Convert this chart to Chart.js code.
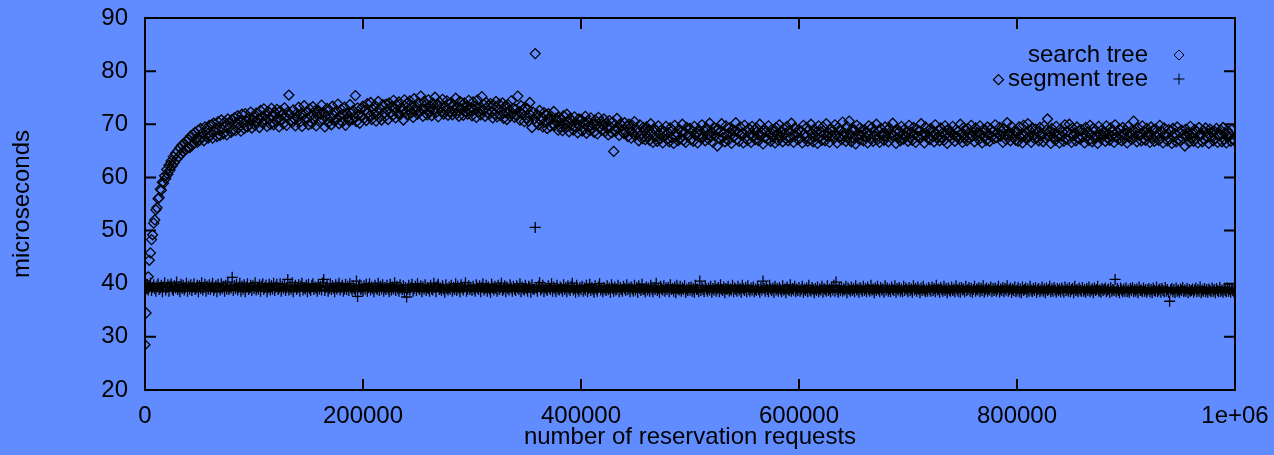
<!DOCTYPE html>
<html lang="en">
  <head>
    <meta charset="UTF-8" />
    <title>search tree vs segment tree</title>
    <script src="https://cdn.jsdelivr.net/npm/chart.js"></script>
    <style>
      html,
      body {
        margin: 0;
        padding: 0;
        background: rgb(96, 140, 255);
      }
      .chart-box {
        width: 1274px;
        height: 455px;
      }
    </style>
  </head>
  <body>
    <div class="chart-box">
      <canvas id="myChart" width="1274" height="455"></canvas>
    </div>
    <script>
      // one sample every 1000 reservation requests
      const xStep = 1000;
      const xTickLabels = ["0", "200000", "400000", "600000", "800000", "1e+06"];
      const yTicks = [20, 30, 40, 50, 60, 70, 80, 90];
      const seriesNames = ["search tree", "segment tree"];

      // microseconds per request, search tree
      const searchTree = [
        28.5, 34.5, 39.2, 41.3, 44.4, 45.8, 48.3, 49.2, 51.4, 52.0, 53.9, 54.3, 56.0, 56.2, 57.8, 57.6, 59.1, 58.9, 60.3, 59.8,
        61.5, 60.6, 62.3, 61.4, 63.1, 62.2, 63.9, 62.8, 64.5, 63.4, 65.0, 63.9, 65.6, 64.4, 66.1, 64.8, 66.4, 65.2, 66.9, 65.5,
        67.2, 65.6, 67.8, 66.0, 68.1, 66.5, 68.5, 67.3, 66.6, 68.9, 67.0, 69.2, 67.6, 68.4, 66.9, 69.5, 67.8, 68.9, 67.4, 69.8,
        68.0, 69.9, 67.4, 70.2, 68.6, 69.3, 67.7, 70.5, 68.9, 67.9, 70.8, 69.1, 68.2, 70.4, 69.6, 68.0, 71.0, 69.3, 70.2, 68.5,
        70.9, 69.0, 71.2, 68.8, 70.3, 71.6, 69.4, 70.7, 68.7, 71.9, 70.1, 69.2, 72.0, 70.6, 69.5, 71.3, 70.0, 72.3, 69.3, 70.8,
        71.4, 69.8, 72.1, 70.5, 71.0, 69.4, 72.6, 71.3, 70.2, 72.9, 70.8, 71.7, 69.6, 72.4, 71.1, 70.0, 73.0, 71.5, 69.9, 72.2,
        70.7, 72.8, 71.2, 69.5, 72.5, 70.9, 71.8, 70.1, 73.1, 71.4, 69.8, 72.3, 75.5, 71.9, 70.6, 70.3, 72.7, 71.0, 69.7, 72.0,
        71.3, 73.2, 70.4, 72.0, 69.6, 71.7, 73.5, 70.8, 72.3, 71.1, 69.9, 72.9, 71.6, 70.2, 73.3, 71.0, 72.5, 69.7, 71.8, 72.6,
        70.5, 71.9, 73.6, 70.9, 72.2, 69.5, 71.5, 73.0, 70.3, 72.7, 71.2, 69.9, 73.4, 71.7, 70.6, 72.4, 71.0, 73.8, 70.1, 71.6,
        72.8, 70.4, 71.9, 73.2, 69.8, 72.1, 71.3, 70.7, 73.7, 72.0, 70.9, 72.6, 71.4, 75.4, 70.5, 73.1, 71.8, 70.2, 72.9, 71.5,
        73.4, 71.1, 72.6, 70.7, 73.9, 72.2, 71.6, 74.1, 70.9, 72.8, 71.9, 73.5, 70.6, 72.4, 74.3, 71.3, 72.9, 70.8, 73.7, 72.1,
        71.4, 73.8, 72.7, 70.9, 74.0, 72.2, 73.3, 71.6, 74.5, 72.9, 71.2, 73.6, 72.0, 74.2, 71.8, 73.1, 72.5, 70.8, 74.6, 72.3,
        73.9, 71.7, 72.8, 74.4, 72.1, 73.5, 71.3, 74.8, 72.6, 73.2, 71.9, 74.1, 72.4, 75.3, 73.0, 71.5, 74.3, 72.9, 73.7, 71.8,
        74.6, 72.5, 73.4, 71.6, 74.0, 72.8, 75.1, 72.2, 73.6, 71.4, 74.2, 73.0, 72.3, 74.7, 71.9, 73.3, 72.6, 74.4, 71.7, 73.8,
        72.4, 74.1, 71.8, 73.5, 72.7, 74.9, 72.0, 73.2, 71.5, 74.3, 72.9, 73.6, 71.7, 74.0, 72.5, 73.3, 71.9, 74.5, 72.6, 73.1,
        71.6, 74.2, 72.8, 73.4, 71.3, 74.6, 72.3, 73.0, 71.8, 75.2, 72.6, 73.7, 71.5, 74.1, 72.2, 73.5, 71.9, 73.9, 72.4, 71.2,
        73.6, 72.0, 74.3, 71.4, 72.9, 73.8, 71.7, 72.5, 74.0, 71.1, 73.3, 72.2, 70.9, 73.7, 72.6, 71.5, 74.4, 72.1, 73.0, 71.3,
        72.8, 71.6, 75.3, 72.4, 70.8, 73.5, 71.9, 72.7, 70.5, 73.2, 71.2, 72.9, 70.6, 74.1, 71.7, 69.4, 72.3, 71.0, 83.3, 70.4,
        71.8, 69.9, 72.6, 70.7, 71.3, 69.5, 72.2, 70.4, 71.7, 69.2, 72.0, 70.9, 69.6, 71.5, 70.1, 72.4, 69.8, 71.1, 70.5, 68.9,
        71.3, 69.6, 70.8, 68.8, 71.6, 70.0, 69.3, 71.9, 70.4, 68.6, 71.1, 69.8, 70.6, 68.9, 71.4, 69.5, 70.2, 68.4, 71.0, 69.7,
        70.9, 68.7, 70.3, 69.1, 71.5, 68.3, 70.6, 69.6, 68.8, 71.2, 69.3, 70.0, 68.5, 70.8, 69.9, 68.2, 71.3, 69.4, 70.5, 68.9,
        69.8, 71.0, 68.6, 70.2, 69.3, 68.0, 70.7, 69.5, 68.4, 70.4, 64.9, 69.0, 68.7, 71.1, 69.2, 67.9, 70.1, 68.8, 69.7, 68.3,
        70.3, 68.5, 69.6, 67.7, 70.0, 68.9, 67.4, 69.8, 68.2, 70.5, 67.9, 69.1, 68.4, 66.9, 69.9, 68.0, 67.3, 69.4, 68.7, 67.1,
        69.5, 67.8, 68.9, 67.0, 70.1, 68.3, 66.6, 69.2, 67.6, 68.8, 66.8, 69.7, 68.1, 67.3, 69.0, 66.5, 68.6, 67.9, 69.6, 67.2,
        68.4, 66.7, 69.3, 67.5, 68.9, 66.4, 69.8, 67.8, 68.2, 66.9, 69.1, 67.3, 68.6, 70.0, 67.0, 68.5, 66.6, 69.4, 67.7, 68.0,
        69.2, 67.1, 68.7, 66.8, 69.6, 67.9, 68.4, 66.5, 69.0, 68.1, 67.4, 69.9, 67.6, 68.8, 66.9, 69.3, 68.0, 67.2, 70.2, 67.7,
        68.5, 66.6, 69.4, 67.8, 68.9, 65.9, 69.1, 67.3, 68.6, 70.1, 67.5, 68.2, 66.7, 69.7, 68.0, 67.0, 69.3, 68.4, 66.4, 69.0,
        67.6, 68.8, 70.3, 67.2, 68.5, 66.8, 69.5, 67.9, 68.3, 66.5, 69.8, 67.4, 68.7, 67.0, 69.2, 68.1, 66.6, 69.6, 67.7, 68.9,
        67.1, 69.3, 68.0, 66.9, 70.0, 67.8, 68.4, 66.3, 69.1, 67.5, 68.7, 67.2, 69.7, 68.2, 66.8, 69.0, 67.6, 68.6, 66.5, 69.4,
        68.1, 67.0, 69.9, 67.7, 68.5, 66.7, 69.2, 68.3, 67.3, 69.6, 66.9, 68.8, 67.5, 70.2, 68.0, 66.6, 69.3, 67.9, 68.4, 67.1,
        69.0, 67.4, 68.7, 66.5, 69.8, 68.2, 67.6, 69.4, 66.8, 68.9, 67.2, 70.0, 68.3, 66.7, 69.1, 67.8, 68.5, 66.4, 69.7, 67.5,
        68.6, 67.0, 69.5, 68.1, 66.9, 70.1, 67.7, 68.4, 66.6, 69.2, 67.9, 68.8, 67.3, 69.9, 68.0, 66.5, 69.4, 67.6, 68.7, 67.1,
        70.4, 67.8, 68.3, 66.8, 69.6, 67.5, 70.6, 68.2, 66.7, 69.1, 67.4, 68.9, 66.3, 69.8, 68.0, 67.2, 69.3, 67.9, 68.5, 66.9,
        69.0, 67.6, 68.4, 66.5, 69.7, 68.1, 67.3, 69.4, 66.8, 68.6, 67.8, 70.0, 67.1, 68.8, 66.6, 69.2, 67.9, 68.3, 67.0, 69.5,
        67.7, 68.9, 66.7, 69.3, 68.2, 67.4, 70.2, 67.9, 68.6, 66.4, 69.0, 67.5, 68.7, 66.9, 69.6, 68.0, 67.2, 69.1, 67.8, 68.4,
        66.8, 69.8, 67.6, 68.5, 67.0, 69.4, 68.1, 66.6, 69.0, 67.7, 68.8, 67.3, 70.1, 67.9, 68.3, 66.5, 69.5, 68.0, 67.4, 68.9,
        67.1, 69.2, 67.8, 68.6, 66.7, 69.9, 68.2, 67.5, 68.9, 66.9, 69.3, 67.6, 68.4, 67.0, 69.7, 68.1, 66.4, 69.1, 67.9, 68.5,
        67.3, 69.6, 68.0, 66.8, 69.0, 67.7, 68.7, 67.2, 70.0, 68.3, 66.6, 69.4, 67.5, 68.8, 66.9, 69.2, 68.1, 67.4, 69.8, 67.8,
        68.5, 66.7, 69.3, 67.9, 68.4, 67.1, 69.7, 68.2, 66.5, 69.0, 67.6, 68.9, 67.0, 69.5, 68.0, 66.8, 69.1, 67.7, 68.6, 67.3,
        69.9, 67.5, 68.3, 78.4, 69.4, 67.8, 68.7, 66.6, 69.2, 68.0, 67.1, 70.3, 67.9, 68.5, 66.9, 69.6, 68.2, 67.4, 68.8, 67.0,
        68.6, 66.8, 69.5, 67.6, 68.1, 66.5, 69.8, 67.9, 68.4, 67.2, 70.1, 67.7, 68.8, 66.6, 69.3, 68.0, 67.3, 69.1, 67.5, 68.5,
        66.9, 69.4, 67.8, 68.2, 66.7, 69.7, 67.4, 68.9, 71.0, 67.9, 68.6, 66.4, 69.2, 67.6, 68.3, 67.0, 69.6, 67.7, 68.0, 66.5,
        69.1, 67.8, 68.5, 66.8, 69.9, 67.3, 68.7, 67.1, 70.0, 68.2, 66.6, 69.3, 67.9, 68.4, 66.9, 69.5, 67.5, 68.8, 67.2, 69.0,
        67.6, 68.3, 66.5, 69.4, 67.8, 68.6, 67.0, 69.8, 68.1, 66.7, 69.2, 67.4, 68.9, 67.7, 66.4, 69.6, 68.0, 67.3, 69.0, 67.9,
        68.4, 66.8, 69.7, 67.5, 68.2, 67.0, 69.3, 67.8, 68.7, 66.6, 69.9, 67.6, 68.5, 67.2, 69.1, 67.9, 66.9, 69.4, 68.1, 67.4,
        68.8, 66.5, 69.6, 67.7, 68.3, 67.1, 69.0, 70.6, 67.6, 68.5, 66.7, 69.3, 67.9, 68.1, 66.9, 69.7, 67.3, 68.6, 67.0, 69.2,
        67.8, 68.4, 66.6, 69.5, 67.5, 68.9, 66.8, 69.1, 67.7, 68.2, 67.0, 69.8, 67.4, 68.6, 66.5, 69.3, 67.9, 68.0, 66.9, 69.0,
        67.2, 68.7, 66.4, 69.2, 67.6, 68.3, 66.7, 69.5, 67.1, 68.5, 66.9, 68.9, 67.4, 68.1, 65.9, 69.1, 67.8, 68.4, 66.6, 69.6,
        67.5, 68.2, 66.8, 69.0, 67.3, 68.6, 66.5, 69.4, 67.9, 68.0, 66.7, 68.8, 67.1, 69.3, 67.6, 68.3, 66.4, 69.1, 67.7, 68.5,
        66.9, 68.7, 67.4, 69.2, 66.6, 68.1, 67.8, 68.9, 66.7, 69.4, 67.2, 68.4, 66.5, 68.8, 67.6, 68.2, 66.8, 69.0, 67.3, 67.0,
      ];

      // microseconds per request, segment tree
      const segmentTree = [
        39.6, 39.0, 39.9, 38.8, 39.4, 40.1, 38.7, 39.3, 39.8, 39.1, 38.6, 39.5, 40.0, 38.9, 39.2, 39.7, 38.5, 39.4, 40.2, 38.8,
        39.3, 39.8, 38.6, 39.5, 40.0, 39.0, 38.7, 39.6, 39.2, 40.3, 38.9, 39.4, 38.5, 39.9, 39.1, 39.7, 38.8, 39.3, 40.1, 38.6,
        39.5, 39.0, 39.8, 38.7, 39.4, 40.0, 38.9, 39.2, 39.7, 38.5, 39.6, 39.1, 40.2, 38.8, 39.3, 39.9, 38.6, 39.5, 39.0, 39.8,
        38.9, 39.4, 40.1, 38.7, 39.2, 39.6, 38.5, 39.9, 39.3, 38.8, 40.0, 39.1, 39.5, 38.6, 39.7, 39.0, 40.3, 38.9, 39.4, 39.2,
        41.2, 38.7, 39.6, 39.1, 39.9, 38.8, 39.3, 40.1, 38.6, 39.5, 39.0, 39.8, 38.5, 39.4, 40.0, 38.9, 39.2, 39.7, 38.7, 39.6,
        39.1, 40.2, 38.8, 39.4, 39.0, 39.8, 38.6, 39.5, 40.0, 38.9, 39.3, 39.7, 38.5, 39.2, 39.9, 38.8, 39.6, 39.0, 40.1, 38.7,
        39.4, 39.9, 38.9, 39.2, 40.0, 38.6, 39.5, 39.1, 39.8, 38.7, 39.3, 40.8, 38.8, 39.6, 39.0, 40.2, 38.5, 39.4, 39.7, 38.9,
        39.2, 39.8, 38.6, 39.5, 40.1, 38.8, 39.3, 39.0, 39.7, 38.5, 39.9, 39.1, 38.7, 39.6, 40.0, 38.9, 39.4, 39.2, 38.6, 39.8,
        39.0, 39.5, 38.8, 40.2, 40.8, 38.7, 39.3, 39.7, 38.6, 39.1, 40.0, 38.9, 39.6, 39.2, 38.5, 39.8, 39.0, 39.4, 40.1, 38.8,
        39.3, 39.7, 38.6, 39.0, 39.9, 38.9, 39.5, 38.7, 40.0, 39.2, 38.8, 39.6, 39.1, 38.5, 40.5, 37.6, 39.4, 39.8, 38.9, 39.2,
        38.7, 39.6, 39.0, 39.9, 38.6, 39.3, 40.0, 38.8, 39.4, 39.1, 38.5, 39.7, 39.2, 38.9, 40.1, 38.7, 39.5, 39.0, 39.8, 38.6,
        39.3, 38.9, 39.7, 39.1, 38.5, 39.9, 38.8, 39.4, 39.0, 40.2, 38.7, 39.5, 39.1, 38.6, 39.8, 39.2, 38.9, 39.6, 38.4, 39.3,
        37.5, 39.0, 39.7, 38.8, 39.3, 39.9, 38.6, 39.1, 39.5, 38.7, 40.0, 39.2, 38.9, 39.6, 38.5, 39.4, 39.0, 39.8, 38.7, 39.3,
        39.1, 38.6, 39.7, 39.0, 38.8, 40.1, 39.3, 38.5, 39.5, 39.9, 38.9, 39.2, 38.7, 39.6, 39.0, 38.4, 39.8, 39.1, 38.8, 39.4,
        39.0, 39.7, 38.6, 39.3, 38.9, 40.0, 38.7, 39.5, 39.1, 38.5, 39.8, 39.2, 38.8, 39.4, 40.2, 38.6, 39.0, 39.6, 38.9, 39.3,
        38.7, 39.5, 39.0, 38.6, 39.8, 39.2, 38.9, 39.6, 38.5, 39.3, 40.0, 38.8, 39.1, 39.7, 38.6, 39.4, 39.0, 38.4, 39.9, 39.2,
        38.8, 39.5, 39.1, 38.6, 39.7, 38.9, 39.3, 40.1, 38.7, 39.0, 39.6, 38.5, 39.4, 39.1, 38.8, 39.8, 39.2, 38.6, 39.5, 39.0,
        38.7, 39.6, 39.2, 38.9, 40.0, 38.5, 39.4, 39.0, 38.8, 39.7, 39.1, 38.6, 39.5, 39.3, 38.4, 39.8, 39.0, 38.9, 50.6, 39.2,
        38.6, 39.5, 40.2, 38.8, 39.1, 39.7, 38.5, 39.3, 39.0, 38.7, 39.6, 39.2, 38.9, 40.0, 38.6, 39.4, 39.1, 38.5, 39.7, 39.0,
        38.8, 39.4, 39.1, 38.6, 39.8, 38.9, 39.3, 38.5, 39.6, 39.0, 38.7, 39.5, 40.1, 38.8, 39.2, 38.4, 39.7, 39.0, 38.6, 39.3,
        38.9, 39.5, 38.6, 39.2, 38.8, 39.7, 38.5, 39.1, 39.9, 38.7, 39.3, 38.9, 38.4, 39.6, 39.0, 38.6, 39.4, 40.0, 38.8, 39.2,
        38.5, 39.3, 39.0, 38.7, 39.6, 38.9, 39.2, 38.4, 39.8, 39.1, 38.6, 39.4, 38.8, 39.0, 39.7, 38.5, 39.3, 38.9, 38.6, 39.5,
        39.1, 38.7, 39.8, 38.9, 39.2, 38.5, 39.4, 39.0, 38.6, 39.7, 38.8, 39.3, 38.4, 39.6, 39.1, 38.7, 39.9, 38.9, 39.0, 38.5,
        39.4, 38.8, 39.2, 38.6, 39.7, 39.0, 38.5, 39.3, 38.9, 40.1, 38.7, 39.1, 38.4, 39.5, 39.0, 38.8, 39.6, 38.6, 39.2, 38.9,
        39.3, 38.5, 39.8, 38.9, 39.1, 38.6, 39.4, 38.3, 39.7, 39.0, 38.8, 39.5, 38.6, 39.2, 38.9, 39.6, 38.4, 39.0, 38.7, 39.3,
        38.8, 39.4, 38.6, 39.1, 38.4, 39.7, 38.9, 39.0, 38.5, 40.5, 38.7, 39.3, 38.9, 38.5, 39.6, 39.0, 38.6, 39.2, 38.8, 39.5,
        38.4, 39.1, 38.8, 39.6, 38.6, 39.0, 39.3, 38.5, 39.8, 38.9, 38.7, 39.4, 38.3, 39.1, 38.9, 39.5, 38.6, 39.0, 38.8, 39.7,
        38.5, 39.2, 38.9, 38.6, 39.5, 38.8, 39.1, 38.4, 39.7, 39.0, 38.7, 39.3, 38.5, 39.6, 38.9, 38.6, 39.2, 38.8, 39.4, 38.5,
        39.0, 38.7, 39.5, 38.9, 38.4, 39.3, 38.8, 40.5, 39.1, 38.6, 39.4, 38.9, 38.5, 39.7, 39.0, 38.7, 39.2, 38.4, 39.5, 38.8,
        39.1, 38.6, 39.3, 38.9, 38.5, 39.6, 38.8, 39.0, 38.3, 39.4, 38.9, 38.7, 39.8, 38.6, 39.1, 38.8, 39.5, 38.5, 39.0, 38.7,
        39.3, 38.6, 38.9, 39.5, 38.4, 39.0, 38.7, 39.2, 38.5, 39.7, 38.8, 38.6, 39.3, 38.9, 38.3, 39.1, 38.7, 39.4, 38.5, 39.0,
        38.8, 39.5, 38.4, 39.1, 38.9, 38.6, 39.6, 38.7, 39.0, 38.5, 39.3, 38.8, 39.7, 38.6, 40.3, 38.9, 38.4, 39.2, 38.7, 39.4,
        38.6, 39.0, 38.8, 39.5, 38.3, 39.2, 38.9, 38.6, 39.4, 38.7, 39.1, 38.5, 39.6, 38.8, 39.0, 38.4, 39.3, 38.9, 38.6, 39.5,
        38.7, 39.1, 38.5, 39.4, 38.9, 38.6, 39.7, 38.8, 39.0, 38.3, 39.2, 38.7, 39.5, 38.9, 38.5, 39.3, 38.8, 39.0, 38.4, 39.6,
        38.8, 39.2, 38.6, 39.0, 38.5, 39.4, 38.9, 38.7, 39.6, 38.4, 39.1, 38.8, 39.3, 38.6, 39.0, 38.5, 39.5, 38.7, 39.2, 38.9,
        38.5, 39.3, 38.7, 39.0, 38.4, 39.6, 38.8, 39.1, 38.6, 39.4, 38.9, 38.3, 39.2, 38.7, 39.5, 38.8, 38.5, 39.0, 38.6, 39.3,
        38.9, 38.6, 39.4, 38.7, 39.1, 38.5, 39.7, 38.8, 39.0, 38.4, 39.3, 38.9, 38.6, 39.5, 38.7, 39.1, 38.3, 39.2, 38.8, 38.6,
        39.4, 38.7, 39.0, 38.5, 39.6, 38.9, 38.6, 39.2, 38.4, 39.3, 38.8, 39.0, 38.5, 39.5, 38.7, 38.9, 39.3, 38.6, 39.1, 38.4,
        38.9, 39.5, 38.6, 39.0, 38.8, 39.3, 38.5, 39.1, 38.7, 39.6, 38.4, 38.9, 39.2, 38.6, 39.0, 38.8, 39.4, 38.5, 39.1, 38.7,
        39.2, 38.6, 38.9, 39.5, 38.4, 39.0, 38.7, 39.3, 38.5, 39.1, 38.8, 39.6, 38.6, 38.9, 39.2, 38.4, 39.0, 38.7, 39.4, 38.5,
        38.8, 39.3, 38.5, 39.0, 38.3, 39.4, 38.7, 38.9, 39.2, 38.4, 39.0, 38.6, 39.5, 38.8, 38.5, 39.1, 38.7, 39.3, 38.4, 38.9,
        39.1, 38.5, 38.8, 39.4, 38.6, 39.0, 38.3, 39.2, 38.7, 38.9, 39.5, 38.5, 39.0, 38.6, 39.3, 38.8, 38.4, 39.1, 38.7, 39.0,
        38.5, 39.2, 38.8, 38.4, 39.4, 38.7, 39.0, 38.6, 39.3, 38.5, 38.9, 39.1, 38.3, 39.5, 38.7, 38.9, 38.5, 39.2, 38.8, 38.6,
        39.3, 38.6, 38.9, 38.4, 39.1, 38.7, 39.4, 38.5, 38.8, 39.0, 38.3, 39.2, 38.7, 38.9, 39.5, 38.6, 38.8, 38.4, 39.1, 38.7,
        38.9, 39.2, 38.5, 38.8, 39.0, 38.4, 39.3, 38.6, 38.9, 38.7, 40.8, 38.5, 39.1, 38.7, 38.3, 39.2, 38.8, 38.5, 39.0, 38.6,
        39.2, 38.5, 38.8, 38.4, 39.1, 38.7, 39.3, 38.5, 38.9, 38.6, 39.0, 38.3, 39.4, 38.7, 38.8, 38.5, 39.2, 38.6, 38.9, 38.4,
        38.8, 39.1, 38.5, 38.9, 38.3, 39.2, 38.7, 38.6, 39.4, 38.5, 38.8, 39.0, 38.4, 39.1, 38.7, 38.5, 39.3, 38.6, 38.9, 38.4,
        36.7, 38.8, 39.1, 38.5, 38.9, 38.3, 39.2, 38.6, 38.8, 38.4, 39.0, 38.7, 39.3, 38.5, 38.8, 38.6, 39.1, 38.3, 38.9, 38.6,
        38.7, 39.0, 38.4, 38.8, 39.2, 38.5, 38.9, 38.6, 39.4, 38.3, 38.8, 38.6, 39.1, 38.5, 38.9, 38.4, 39.0, 38.7, 38.5, 39.2,
        38.6, 38.9, 38.3, 39.1, 38.7, 38.5, 39.3, 38.6, 38.8, 38.4, 39.0, 38.7, 38.5, 39.2, 38.6, 38.9, 38.4, 39.0, 38.7, 38.5,
      ];

      const toPoints = function (values) {
        return values.map(function (v, i) {
          return { x: i * xStep, y: v };
        });
      };

      const fontFamily = "'Liberation Sans', Arial, sans-serif";
      const ink = "#000";

      // border box with inward tick marks on all four sides
      const framePlugin = {
        id: "frame",
        afterDraw(chart) {
          const { ctx, chartArea: a, scales } = chart;
          const tick = 11;
          ctx.save();
          ctx.strokeStyle = ink;
          ctx.lineWidth = 2;
          ctx.beginPath();
          ctx.rect(a.left, a.top, a.right - a.left, a.bottom - a.top);
          ctx.stroke();
          ctx.beginPath();
          scales.y.ticks.forEach(function (t) {
            const y = scales.y.getPixelForValue(t.value);
            ctx.moveTo(a.left, y);
            ctx.lineTo(a.left + tick, y);
            ctx.moveTo(a.right, y);
            ctx.lineTo(a.right - tick, y);
          });
          scales.x.ticks.forEach(function (t) {
            const x = scales.x.getPixelForValue(t.value);
            ctx.moveTo(x, a.bottom);
            ctx.lineTo(x, a.bottom - tick);
            ctx.moveTo(x, a.top);
            ctx.lineTo(x, a.top + tick);
          });
          ctx.stroke();
          ctx.restore();
        },
      };

      // key in the top right: right-aligned text, sample mark after it
      const keyPlugin = {
        id: "key",
        afterDraw(chart) {
          const { ctx } = chart;
          const textRight = 1148;
          const markX = 1179;
          const rows = [55, 79];
          ctx.save();
          ctx.font = "24px " + fontFamily;
          ctx.fillStyle = ink;
          ctx.strokeStyle = ink;
          ctx.lineWidth = 1;
          ctx.textAlign = "right";
          ctx.textBaseline = "middle";
          chart.data.datasets.forEach(function (ds, i) {
            const y = rows[i];
            ctx.fillText(ds.label, textRight, y);
            const r = ds.pointRadius;
            ctx.beginPath();
            if (ds.pointStyle === "rectRot") {
              ctx.moveTo(markX, y - r);
              ctx.lineTo(markX + r, y);
              ctx.lineTo(markX, y + r);
              ctx.lineTo(markX - r, y);
              ctx.closePath();
            } else {
              ctx.moveTo(markX - r, y);
              ctx.lineTo(markX + r, y);
              ctx.moveTo(markX, y - r);
              ctx.lineTo(markX, y + r);
            }
            ctx.stroke();
          });
          ctx.restore();
        },
      };

      const ctx = document.getElementById("myChart");
      const myChart = new Chart(ctx, {
        type: "scatter",
        data: {
          datasets: [
            {
              label: seriesNames[0],
              data: toPoints(searchTree),
              pointStyle: "rectRot",
              pointRadius: 5,
              borderWidth: 1.3,
              borderColor: ink,
              backgroundColor: "rgba(0,0,0,0)",
            },
            {
              label: seriesNames[1],
              data: toPoints(segmentTree),
              pointStyle: "cross",
              pointRadius: 5.5,
              borderWidth: 1.3,
              borderColor: ink,
              backgroundColor: "rgba(0,0,0,0)",
            },
          ],
        },
        options: {
          responsive: false,
          animation: false,
          devicePixelRatio: 1,
          layout: {
            padding: { top: 18, right: 39, left: 0, bottom: 0 },
          },
          plugins: {
            legend: { display: false },
            tooltip: { enabled: false },
          },
          scales: {
            x: {
              type: "linear",
              min: 0,
              max: 1000000,
              grid: { display: false, drawTicks: false },
              border: { display: false },
              ticks: {
                stepSize: 200000,
                autoSkip: false,
                maxRotation: 0,
                padding: 12,
                color: ink,
                font: { family: fontFamily, size: 24 },
                callback: function (value, index) {
                  return xTickLabels[index];
                },
              },
              title: {
                display: true,
                text: "number of reservation requests",
                color: ink,
                font: { family: fontFamily, size: 24 },
                padding: { top: 0, bottom: 3 },
              },
              afterFit(scale) {
                scale.height = 65;
                scale.paddingLeft = 0;
                scale.paddingRight = 0;
              },
            },
            y: {
              min: 20,
              max: 90,
              grid: { display: false, drawTicks: false },
              border: { display: false },
              afterBuildTicks(scale) {
                scale.ticks = yTicks.map(function (v) {
                  return { value: v };
                });
              },
              ticks: {
                autoSkip: false,
                padding: 17,
                color: ink,
                font: { family: fontFamily, size: 24 },
              },
              title: {
                display: true,
                text: "microseconds",
                color: ink,
                font: { family: fontFamily, size: 24 },
                padding: { top: 8, bottom: 0 },
              },
              afterFit(scale) {
                scale.width = 145;
                scale.paddingTop = 0;
                scale.paddingBottom = 0;
              },
            },
          },
        },
        plugins: [framePlugin, keyPlugin],
      });
    </script>
  </body>
</html>
